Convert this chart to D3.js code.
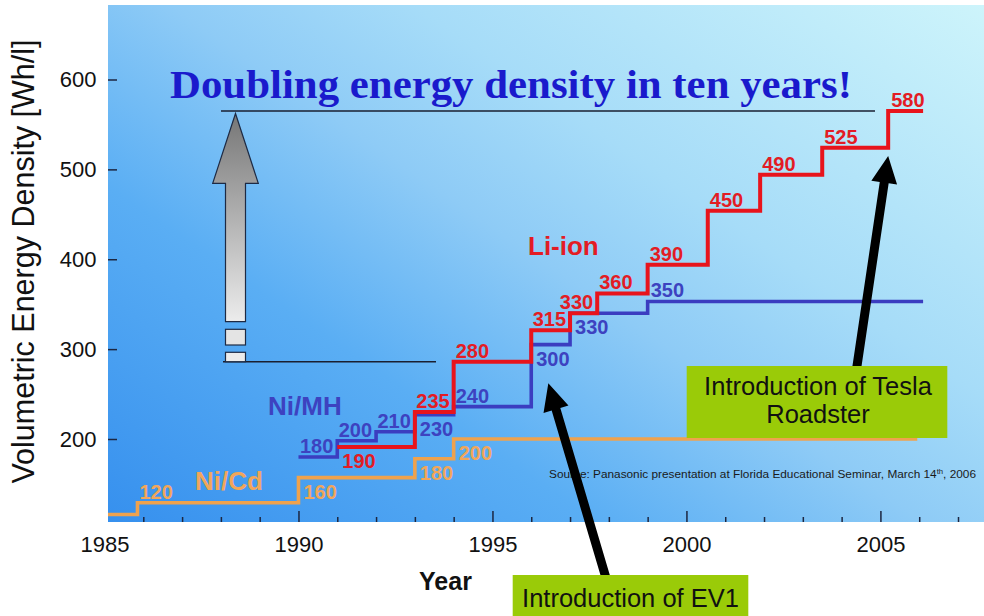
<!DOCTYPE html>
<html>
<head>
<meta charset="utf-8">
<script src="https://cdn.jsdelivr.net/npm/d3@7"></script>
<style>
body { margin: 0; background: #fff; }
svg { display: block; font-family: "Liberation Sans", Arial, sans-serif; }
</style>
</head>
<body>
<div id="chart"></div>
<script>
// step start years and drawn levels (Wh/l)
var niCdYears = [1985, 1985.85, 1990, 1993, 1994];
var niCdValues = [116, 129, 157, 178, 200];
var niCdLabels = ["", "120", "160", "180", "200"];
var niCdEnd = 2005.95;

var niMhYears = [1990, 1991, 1992, 1993, 1994, 1996, 1997, 1999];
var niMhValues = [180, 198, 208, 227, 236, 305, 340, 353];
var niMhLabels = ["180", "200", "210", "230", "240", "300", "330", "350"];
var niMhEnd = 2006.1;

var liIonYears = [1991, 1993, 1994, 1996, 1997, 1997.7, 1999, 2000.55, 2001.9, 2003.5, 2005.2];
var liIonValues = [191, 230, 286, 321, 340, 362, 394, 454, 494, 524, 565];
var liIonLabels = ["190", "235", "280", "315", "330", "360", "390", "450", "490", "525", "580"];
var liIonEnd = 2006.1;

var yTicks = [200, 300, 400, 500, 600];
var xMajorTicks = [1985, 1990, 1995, 2000, 2005];
var xMinorTicks = [1986, 1987, 1988, 1989, 1991, 1992, 1993, 1994, 1996, 1997, 1998, 1999,
                   2001, 2002, 2003, 2004, 2006, 2007];

// where each value label sits: a = above the step, b = below it
var niCdSide = ["", "a", "b", "b", "b"];
var niMhSide = ["a", "a", "a", "b", "a", "b", "b", "a"];
var liIonSide = ["b", "a", "a", "a", "a", "a", "a", "a", "a", "a", "a"];

var W = 984, H = 616;
var plot = {left: 108, top: 5, right: 984, bottom: 522};

var x = d3.scaleLinear().domain([1985, 2007.67]).range([104.5, 984]);
var y = d3.scaleLinear().domain([200, 600]).range([439, 79.5]);

var svg = d3.select('#chart').append('svg')
    .attr('width', W)
    .attr('height', H);

var defs = svg.append('defs');
var bg = defs.append('linearGradient').attr('id', 'bg')
    .attr('gradientUnits', 'userSpaceOnUse')
    .attr('x1', 108).attr('y1', 522).attr('x2', 629).attr('y2', -238);
[[0, '#3690ee'], [0.3, '#5aaef4'], [0.5, '#8ecbf6'], [0.65, '#a6dcf8'], [1, '#cdf4fb']]
    .forEach(function(s) { bg.append('stop').attr('offset', s[0]).attr('stop-color', s[1]); });

var grey = defs.append('linearGradient').attr('id', 'grey')
    .attr('x1', 0).attr('y1', 0).attr('x2', 0).attr('y2', 1);
grey.append('stop').attr('offset', 0).attr('stop-color', '#767676');
grey.append('stop').attr('offset', 1).attr('stop-color', '#ececec');

defs.append('clipPath').attr('id', 'clip').append('rect')
    .attr('x', plot.left).attr('y', plot.top)
    .attr('width', plot.right - plot.left).attr('height', plot.bottom - plot.top);

svg.append('rect')
    .attr('x', plot.left).attr('y', plot.top)
    .attr('width', plot.right - plot.left).attr('height', plot.bottom - plot.top)
    .attr('fill', 'url(#bg)');

// axes
var xMinor = d3.axisBottom(x).tickValues(xMinorTicks).tickSize(-5).tickFormat('');
var xMajor = d3.axisBottom(x).tickValues(xMajorTicks).tickSize(-11).tickPadding(14.5).tickFormat(d3.format('d'));
var yAxis = d3.axisLeft(y).tickValues(yTicks).tickSize(-9).tickPadding(11.5);

[xMinor, xMajor].forEach(function(ax) {
    var g = svg.append('g').attr('transform', 'translate(0,' + plot.bottom + ')').call(ax);
    g.select('.domain').remove();
    g.selectAll('line').attr('stroke', '#1c2640').attr('stroke-width', 1.5);
    // the 1985 mark falls just outside the shaded area, only its label shows
    g.selectAll('.tick').filter(function(d) { return x(d) < plot.left; }).select('line').remove();
    g.selectAll('text').attr('font-size', 22).attr('fill', '#111')
        .attr('font-family', '"Liberation Sans", Arial, sans-serif');
});
var gy = svg.append('g').attr('transform', 'translate(' + plot.left + ',0)').call(yAxis);
gy.select('.domain').remove();
gy.selectAll('line').attr('stroke', '#1c2640').attr('stroke-width', 1.5);
gy.selectAll('text').attr('font-size', 22).attr('fill', '#111')
    .attr('font-family', '"Liberation Sans", Arial, sans-serif');

svg.append('text')
    .attr('transform', 'translate(34,261.5) rotate(-90)')
    .attr('text-anchor', 'middle')
    .attr('font-size', 30.5)
    .attr('fill', '#111')
    .text('Volumetric Energy Density [Wh/l]');

svg.append('text')
    .attr('x', 445.5).attr('y', 590)
    .attr('text-anchor', 'middle')
    .attr('font-size', 25).attr('font-weight', 'bold')
    .attr('fill', '#111')
    .text('Year');

// step lines
var chart = svg.append('g').attr('clip-path', 'url(#clip)');
var line = d3.line()
    .x(function(d) { return x(d[0]); })
    .y(function(d) { return y(d[1]); })
    .curve(d3.curveStepAfter);

function steps(years, values, end) {
    var pts = years.map(function(yr, i) { return [yr, values[i]]; });
    pts.push([end, values[values.length - 1]]);
    return pts;
}

chart.append('path').attr('d', line(steps(niCdYears, niCdValues, niCdEnd)))
    .attr('fill', 'none').attr('stroke', '#efa24d').attr('stroke-width', 3.6);
chart.append('path').attr('d', line(steps(niMhYears, niMhValues, niMhEnd)))
    .attr('fill', 'none').attr('stroke', '#3b3dc0').attr('stroke-width', 3.6);
chart.append('path').attr('d', line(steps(liIonYears, liIonValues, liIonEnd)))
    .attr('fill', 'none').attr('stroke', '#e8141c').attr('stroke-width', 4);

function addLabels(years, values, labels, sides, end, color) {
    labels.forEach(function(t, i) {
        if (!t) return;
        var x0 = x(years[i]);
        var last = i === years.length - 1;
        var x1 = last ? x(end) : x(years[i + 1]);
        var yy = y(values[i]);
        var txt = svg.append('text').text(t)
            .attr('font-size', 20).attr('font-weight', 'bold').attr('fill', color);
        var w = txt.node().getComputedTextLength();
        if (sides[i] === 'b') {
            txt.attr('x', x0 + 5).attr('y', yy + 21);
        } else {
            txt.attr('x', last ? x0 + 3 : Math.min(x0 + 2, x1 - w - 4)).attr('y', yy - 4);
        }
    });
}
addLabels(niCdYears, niCdValues, niCdLabels, niCdSide, niCdEnd, '#f1a65a');
addLabels(niMhYears, niMhValues, niMhLabels, niMhSide, niMhEnd, '#3d42c0');
addLabels(liIonYears, liIonValues, liIonLabels, liIonSide, liIonEnd, '#e31c24');

svg.append('text').attr('x', 195).attr('y', 490)
    .attr('font-size', 26).attr('font-weight', 'bold').attr('fill', '#f1a65a').text('Ni/Cd');
svg.append('text').attr('x', 268).attr('y', 415)
    .attr('font-size', 26).attr('font-weight', 'bold').attr('fill', '#3d42c0').text('Ni/MH');
svg.append('text').attr('x', 528).attr('y', 255)
    .attr('font-size', 26).attr('font-weight', 'bold').attr('fill', '#e31c24').text('Li-ion');

// doubling guide lines and grey arrow
var yTop = y(liIonValues[liIonValues.length - 1]);
var yLow = y(liIonValues[2]);
svg.append('line').attr('x1', 221).attr('x2', 875).attr('y1', yTop).attr('y2', yTop)
    .attr('stroke', '#1a1f30').attr('stroke-width', 1.5);
svg.append('line').attr('x1', 223).attr('x2', 436).attr('y1', yLow).attr('y2', yLow)
    .attr('stroke', '#1a1f30').attr('stroke-width', 1.5);

var ax0 = 235.5;
svg.append('path')
    .attr('d', 'M' + ax0 + ',' + (yTop + 2.5) + 'L' + (ax0 + 22.8) + ',183.3L' + (ax0 + 10) + ',183.3L' +
        (ax0 + 10) + ',321.7L' + (ax0 - 10) + ',321.7L' + (ax0 - 10) + ',183.3L' + (ax0 - 22.8) + ',183.3Z')
    .attr('fill', 'url(#grey)').attr('stroke', '#1d2a44').attr('stroke-width', 1.2);
svg.append('rect').attr('x', ax0 - 10).attr('y', 329.3).attr('width', 20).attr('height', 15.7)
    .attr('fill', '#e4e4e4').attr('stroke', '#1d2a44').attr('stroke-width', 1.2);
svg.append('rect').attr('x', ax0 - 10).attr('y', 352.3).attr('width', 20).attr('height', yLow - 352.3)
    .attr('fill', '#ececec').attr('stroke', '#1d2a44').attr('stroke-width', 1.2);

svg.append('text')
    .attr('x', 170).attr('y', 98)
    .attr('font-family', '"Liberation Serif", "Times New Roman", serif')
    .attr('font-weight', 'bold').attr('font-size', 39)
    .attr('fill', '#1a1acc')
    .attr('textLength', 682).attr('lengthAdjust', 'spacingAndGlyphs')
    .text('Doubling energy density in ten years!');

var src = svg.append('text')
    .attr('x', 549).attr('y', 478)
    .attr('font-size', 11.5).attr('fill', '#1a1a1a')
    .attr('textLength', 427).attr('lengthAdjust', 'spacingAndGlyphs');
src.append('tspan').text('Source: Panasonic presentation at Florida Educational Seminar, March 14');
src.append('tspan').attr('font-size', 7.5).attr('dy', -4).text('th');
src.append('tspan').attr('dy', 4).text(', 2006');

// annotation arrows
function arrow(tail, tip, sw, hl, hw) {
    var dx = tip[0] - tail[0], dy = tip[1] - tail[1];
    var len = Math.sqrt(dx * dx + dy * dy);
    var ux = dx / len, uy = dy / len, px = -uy, py = ux;
    var bx = tip[0] - ux * hl, by = tip[1] - uy * hl;
    var pts = [
        [tail[0] + px * sw / 2, tail[1] + py * sw / 2],
        [bx + px * sw / 2, by + py * sw / 2],
        [bx + px * hw / 2, by + py * hw / 2],
        tip,
        [bx - px * hw / 2, by - py * hw / 2],
        [bx - px * sw / 2, by - py * sw / 2],
        [tail[0] - px * sw / 2, tail[1] - py * sw / 2]
    ];
    svg.append('polygon').attr('points', pts.map(function(p) { return p.join(','); }).join(' '))
        .attr('fill', '#000');
}
arrow([606, 578], [x(1996.44), 383.3], 9, 27, 26);
arrow([856.7, 368], [x(2005.2), 156], 9, 27, 26);

// callout boxes
svg.append('rect').attr('x', 512.7).attr('y', 575).attr('width', 235.6).attr('height', 45)
    .attr('fill', '#9acb08');
svg.append('text').attr('x', 630.5).attr('y', 606.5).attr('text-anchor', 'middle')
    .attr('font-size', 25.5).attr('fill', '#111').text('Introduction of EV1');

svg.append('rect').attr('x', 686.7).attr('y', 366).attr('width', 260.6).attr('height', 72)
    .attr('fill', '#9acb08');
svg.append('text').attr('x', 818).attr('y', 395).attr('text-anchor', 'middle')
    .attr('font-size', 25.5).attr('fill', '#111').text('Introduction of Tesla');
svg.append('text').attr('x', 818).attr('y', 423.3).attr('text-anchor', 'middle')
    .attr('font-size', 25.5).attr('fill', '#111').text('Roadster');
</script>
</body>
</html>
